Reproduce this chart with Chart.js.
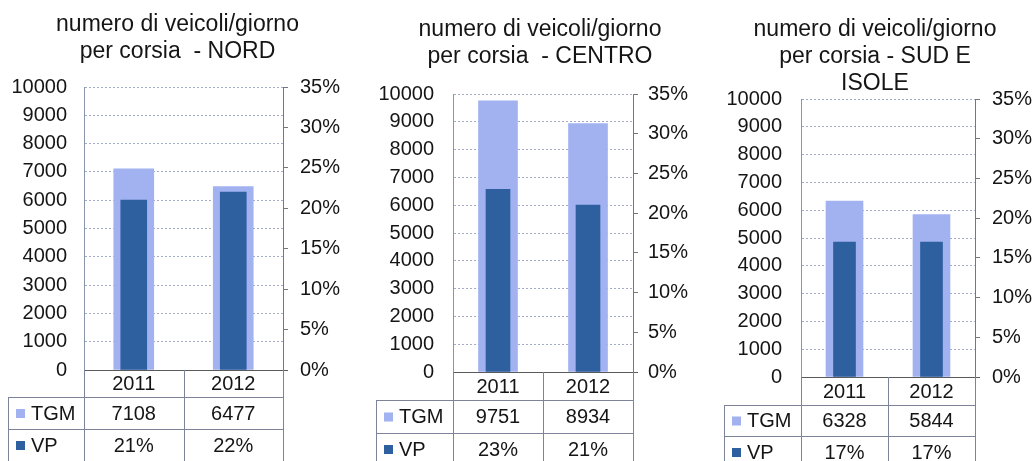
<!DOCTYPE html>
<html><head><meta charset="utf-8">
<script src="https://cdn.jsdelivr.net/npm/chart.js@4.4.0/dist/chart.umd.min.js"></script>
<style>
html,body{margin:0;padding:0;background:#fff;width:1034px;height:461px;overflow:hidden;}
canvas{position:absolute;top:0;}
</style></head><body>
<canvas id="c1" width="355" height="461" style="left:0px"></canvas>
<canvas id="c2" width="340" height="461" style="left:370px"></canvas>
<canvas id="c3" width="318" height="461" style="left:716px"></canvas>
<script>
// ---- data ----
const categories = ['2011', '2012'];
const seriesNames = ['TGM', 'VP'];
const titleNord = ['numero di veicoli/giorno', 'per corsia  - NORD'];
const titleCentro = ['numero di veicoli/giorno', 'per corsia  - CENTRO'];
const titleSud = ['numero di veicoli/giorno', 'per corsia - SUD E', 'ISOLE'];
const tgmNord = [7108, 6477];
const vpNord = [21, 22];          // %
const tgmCentro = [9751, 8934];
const vpCentro = [23, 21];        // %
const tgmSud = [6328, 5844];
const vpSud = [17, 17];           // %
const leftAxis = {min: 0, max: 10000, step: 1000};
const rightAxis = {min: 0, max: 35, step: 5};

// ---- style ----
const FONT = "'Liberation Sans', Arial, sans-serif";
const TXT = '#151515';
const LIGHT = '#a2b2f1';
const DARK = '#2e5f9e';
const LINE = '#7d8398';

const tablePlugin = {
  id: 'dataTable',
  afterDraw(chart, args, o) {
    const ctx = chart.ctx, a = chart.chartArea, xs = chart.scales.x;
    const n = chart.data.labels.length;
    const colW = (a.right - a.left) / n;
    const edges = [a.left];
    for (let i = 0; i < n; i++) edges.push(xs.getPixelForValue(i) + colW / 2);
    const r = o.rows;
    const y0 = a.bottom, y1 = y0 + r[0], y2 = y1 + r[1], y3 = y2 + r[2];
    const px = v => Math.round(v) + 0.5;
    ctx.save();
    ctx.strokeStyle = '#5a5a5a'; ctx.lineWidth = 1;
    ctx.beginPath(); ctx.moveTo(a.left, px(y0)); ctx.lineTo(a.right + 5, px(y0)); ctx.stroke();
    ctx.strokeStyle = LINE;
    ctx.beginPath();
    edges.forEach(e => { ctx.moveTo(px(e), y0); ctx.lineTo(px(e), y3); });
    ctx.moveTo(px(o.legendLeft), y1); ctx.lineTo(px(o.legendLeft), y3);
    [y1, y2, y3].forEach(y => { ctx.moveTo(o.legendLeft, px(y)); ctx.lineTo(edges[n], px(y)); });
    ctx.stroke();
    ctx.fillStyle = TXT;
    ctx.font = '20px ' + FONT;
    ctx.textAlign = 'center'; ctx.textBaseline = 'middle';
    chart.data.labels.forEach((l, i) => {
      ctx.fillText(l, xs.getPixelForValue(i), (y0 + y1) / 2 + 1);
    });
    chart.data.datasets.forEach(ds => {
      const yy = ds.tableRow === 0 ? (y1 + y2) / 2 + 1 : (y2 + y3) / 2 + 1;
      ds.data.forEach((v, i) => {
        ctx.fillStyle = TXT; ctx.textAlign = 'center';
        ctx.fillText(ds.fmt(v), xs.getPixelForValue(i), yy);
      });
      ctx.fillStyle = ds.backgroundColor;
      ctx.fillRect(o.legendLeft + 8, yy - 5, 9, 9);
      ctx.fillStyle = TXT; ctx.textAlign = 'left';
      ctx.fillText(ds.label, o.legendLeft + 23, yy);
    });
    ctx.restore();
  }
};

function makeChart(id, title, tgm, vp, s) {
  new Chart(document.getElementById(id), {
    type: 'bar',
    data: {
      labels: categories,
      datasets: [
        {label: seriesNames[0], data: tgm, yAxisID: 'y', backgroundColor: LIGHT, grouped: false,
         barThickness: s.bw[0], order: 2, tableRow: 0, fmt: v => String(v)},
        {label: seriesNames[1], data: vp, yAxisID: 'y1', backgroundColor: DARK, grouped: false,
         barThickness: s.bw[1], order: 1, tableRow: 1, fmt: v => v + '%'}
      ]
    },
    options: {
      responsive: false, animation: false,
      layout: {padding: {left: 0, right: 0, top: 0, bottom: s.bottom}},
      plugins: {
        legend: {display: false}, tooltip: {enabled: false},
        title: {display: true, text: title, color: TXT,
                font: {family: FONT, size: 23, weight: 'normal', lineHeight: 27 / 23},
                padding: {top: s.tTop, bottom: s.tBottom}},
        dataTable: {rows: s.rows, legendLeft: s.legendLeft}
      },
      scales: {
        x: {display: false, offset: true},
        y: {
          position: 'left', min: leftAxis.min, max: leftAxis.max,
          afterFit: sc => { sc.width = s.yW; },
          ticks: {stepSize: leftAxis.step, color: TXT, padding: s.lp, font: {family: FONT, size: 20},
                  callback: v => String(v)},
          grid: {drawTicks: false, lineWidth: 1,
                 color: c => c.tick && c.tick.value === 0 ? 'rgba(0,0,0,0)' : '#a3abc8'},
          border: {display: true, color: '#8c93ad', dash: [2, 2]}
        },
        y1: {
          position: 'right', min: rightAxis.min, max: rightAxis.max,
          afterFit: sc => { sc.width = s.y1W; },
          ticks: {stepSize: rightAxis.step, color: TXT, padding: s.rp, font: {family: FONT, size: 20},
                  callback: v => v + '%'},
          grid: {drawOnChartArea: false, drawTicks: true, tickLength: 5, color: '#777'},
          border: {display: true, color: '#777'}
        }
      }
    },
    plugins: [tablePlugin]
  });
}

makeChart('c1', titleNord, tgmNord, vpNord,
  {yW: 84, y1W: 72, bottom: 91, tTop: 11, tBottom: 22, lp: 17, rp: 12, legendLeft: 8, rows: [27, 32, 32], bw: [40, 26]});
makeChart('c2', titleCentro, tgmCentro, vpCentro,
  {yW: 83, y1W: 77, bottom: 89, tTop: 16, tBottom: 24, lp: 19, rp: 10, legendLeft: 6, rows: [28, 33, 32], bw: [39, 24]});
makeChart('c3', titleSud, tgmSud, vpSud,
  {yW: 85, y1W: 59, bottom: 84, tTop: 16, tBottom: 2, lp: 19, rp: 12, legendLeft: 8, rows: [28, 31, 32], bw: [37, 22]});
</script>
</body></html>
